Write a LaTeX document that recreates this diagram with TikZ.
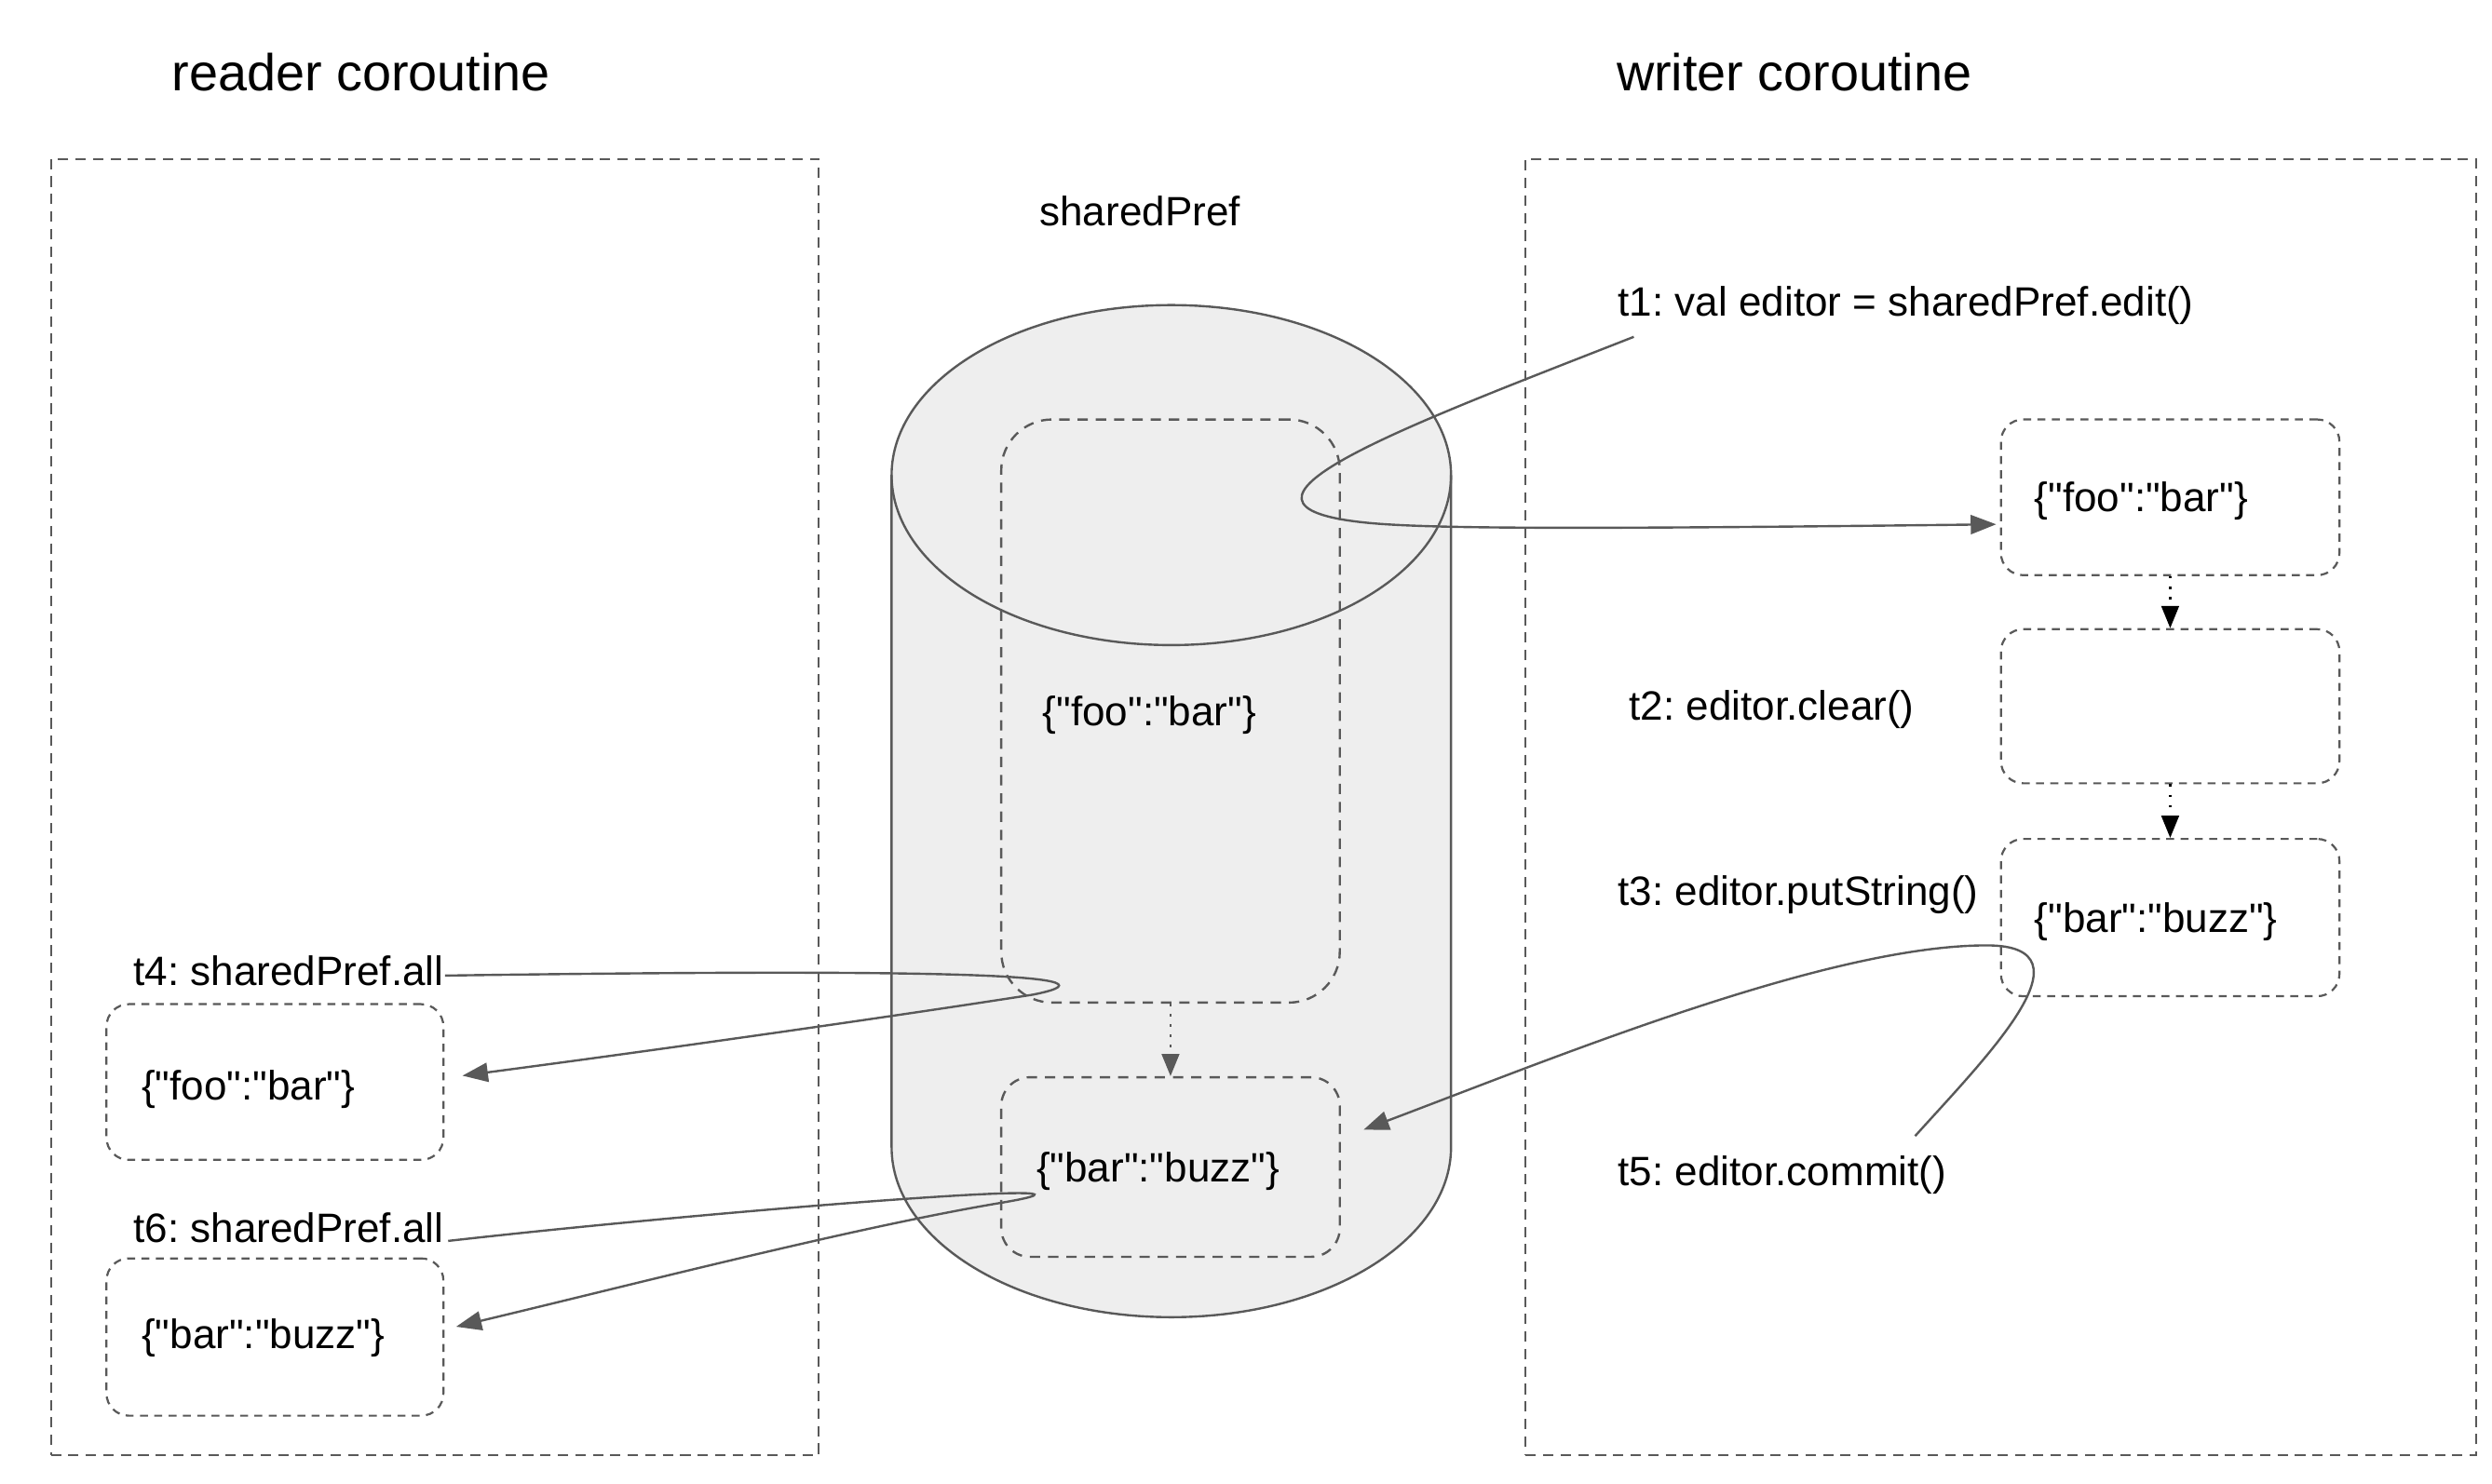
\documentclass[tikz,border=0pt]{standalone}
\usepackage{fontspec}
\setmainfont{Liberation Sans}[Ligatures=TeXOff]
\usetikzlibrary{arrows.meta}
\definecolor{ln}{HTML}{595959}
\definecolor{cylfill}{HTML}{EEEEEE}
\begin{document}
\frenchspacing
\begin{tikzpicture}[x=1pt,y=-1pt,
  lbl/.style={inner sep=0pt, anchor=base west, font=\fontsize{25.8}{31}\selectfont},
  ttl/.style={inner sep=0pt, anchor=base west, font=\fontsize{32.7}{39}\selectfont},
  region/.style={draw=ln, line width=1.1pt, dash pattern=on 6.5pt off 4.5pt, inner sep=0pt},
  dbox/.style={draw=ln, line width=1.3pt, dash pattern=on 5pt off 4pt, rounded corners=14pt, inner sep=0pt},
  cbox/.style={draw=ln, line width=1.4pt, dash pattern=on 6.5pt off 5pt, inner sep=0pt},
  conn/.style={draw=ln, line width=1.4pt, -{Triangle[length=16pt,width=12pt]}},
  dotarr/.style={line width=1.5pt, dash pattern=on 1.5pt off 5pt, -{Triangle[length=14pt,width=11pt]}},
]
\useasboundingbox[fill=white] (0,0) rectangle (1568,934);

% regions
\node[region, minimum width=483pt, minimum height=816pt] (reader) at (273.5,508) {};
\node[region, minimum width=598pt, minimum height=816pt] (writer) at (1259,508) {};
\node[ttl] (rtitle) at (108,57) {reader coroutine};
\node[ttl] (wtitle) at (1017,57) {writer coroutine};

% cylinder
\fill[cylfill] (561,299) -- (561,722) arc[start angle=180,end angle=0,x radius=176,y radius=107] -- (913,299) -- cycle;
\draw[ln, line width=1.4pt, fill=cylfill] (737,299) ellipse[x radius=176, y radius=107];
\draw[ln, line width=1.4pt] (561,299) -- (561,722) arc[start angle=180,end angle=0,x radius=176,y radius=107] -- (913,299);
\node[lbl] (sp) at (654,142) {sharedPref};

\node[cbox, rounded corners=32pt, minimum width=213pt, minimum height=367pt] (cbig) at (736.5,447.5) {};
\node[cbox, rounded corners=18pt, minimum width=213pt, minimum height=113pt] (csmall) at (736.5,734.5) {};
\node[lbl] (cfoo) at (656,457) {\{"foo":"bar"\}};
\node[lbl] (cbuzz) at (652,744) {\{"bar":"buzz"\}};
\draw[dotarr, ln] (cbig.south) -- (csmall.north);

% writer
\node[dbox, minimum width=213pt, minimum height=98pt] (w1) at (1365.5,313) {};
\node[dbox, minimum width=213pt, minimum height=97pt] (w2) at (1365.5,444.5) {};
\node[dbox, minimum width=213pt, minimum height=99pt] (w3) at (1365.5,577.5) {};
\node[lbl] (wfoo) at (1280,322) {\{"foo":"bar"\}};
\node[lbl] (wbuzz) at (1280,587) {\{"bar":"buzz"\}};
\draw[dotarr, black] (w1.south) -- (w2.north);
\draw[dotarr, black] (w2.south) -- (w3.north);
\node[lbl] (t1) at (1018,199) {t1: val editor = sharedPref.edit()};
\node[lbl] (t2) at (1025,453) {t2: editor.clear()};
\node[lbl] (t3) at (1018,570) {t3: editor.putString()};
\node[lbl] (t5) at (1018,746) {t5: editor.commit()};

% reader
\node[dbox, minimum width=212pt, minimum height=98pt] (r1) at (173,681) {};
\node[dbox, minimum width=212pt, minimum height=99pt] (r2) at (173,841.5) {};
\node[lbl] (rfoo) at (89,692) {\{"foo":"bar"\}};
\node[lbl] (rbuzz) at (89,849) {\{"bar":"buzz"\}};
\node[lbl] (t4) at (84,620) {t4: sharedPref.all};
\node[lbl] (t6) at (84,782) {t6: sharedPref.all};

% connector ends
\coordinate (c1) at (1028,212);
\coordinate (a1) at (1256,330);
\coordinate (c4) at (280,614);
\coordinate (a4) at (291,677);
\coordinate (c6) at (282,781);
\coordinate (a6) at (287,835);
\coordinate (c5) at (1205,715);
\coordinate (a5) at (858,711);

\draw[conn] (c1) .. controls (880,270) and (750,318) .. (860,329) .. controls (900,333) and (1000,333) .. (a1);
\draw[conn] (c4) .. controls (560,610) and (720,612) .. (650,626) .. controls (560,640) and (420,660) .. (a4);
\draw[conn] (c6) .. controls (450,762) and (730,740) .. (630,757) .. controls (540,772) and (400,808) .. (a6);
\draw[conn] (c5) .. controls (1250,665) and (1320,595) .. (1250,595) .. controls (1150,595) and (980,665) .. (a5);
\end{tikzpicture}
\end{document}
